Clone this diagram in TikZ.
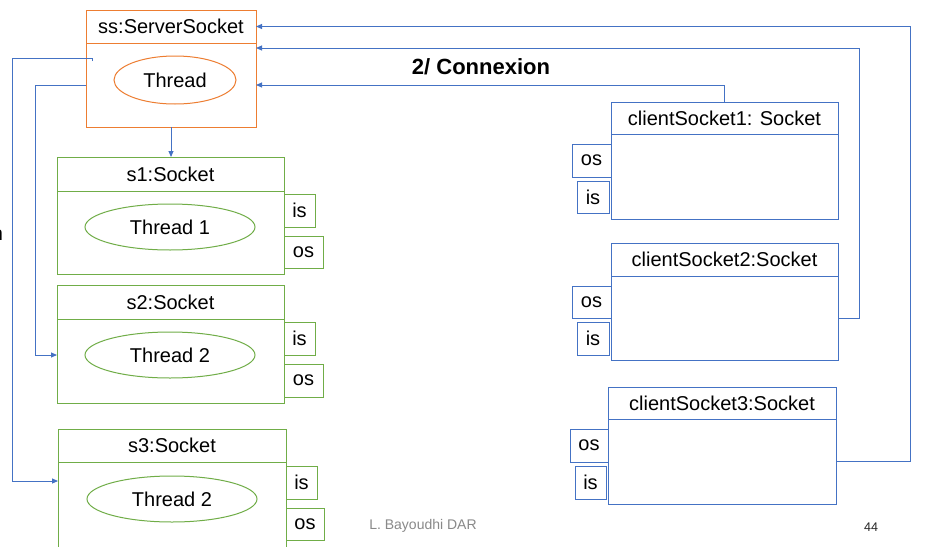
\documentclass[tikz,border=0pt]{standalone}
\usepackage{fontspec}
\setmainfont{Liberation Sans}
\usetikzlibrary{shapes.geometric,arrows.meta}
\definecolor{oran}{HTML}{ED7D31}
\definecolor{gren}{HTML}{70AD47}
\definecolor{blu}{HTML}{4472C4}
\definecolor{conn}{HTML}{4472C4}
\definecolor{foot}{HTML}{898989}
\begin{document}
\begin{tikzpicture}[x=1pt,y=-1pt,
  every node/.style={inner sep=0pt,outer sep=0pt,font=\fontsize{20}{24}\selectfont},
  boxpart/.style={draw,line width=1pt,rectangle,anchor=north west},
  ell/.style={draw,line width=1pt,ellipse},
  arr/.style={draw=conn,line width=0.9pt,-{Triangle[length=6pt,width=5pt]}},
  ln/.style={draw=conn,line width=0.9pt}]
\useasboundingbox (0,0) rectangle (942,546);
\fill[white] (0,0) rectangle (942,546);

% server socket
\node[boxpart,draw=oran,minimum width=170pt,minimum height=33pt] (ssh) at (86,10) {ss:ServerSocket};
\node[boxpart,draw=oran,minimum width=170pt,minimum height=84pt] (ssb) at (86,43) {};
\node[ell,draw=oran,minimum width=122pt,minimum height=48pt] (sst) at (175,80) {Thread};

% s1
\node[boxpart,draw=gren,minimum width=227pt,minimum height=34pt] (s1h) at (57,157) {s1:Socket};
\node[boxpart,draw=gren,minimum width=227pt,minimum height=83pt] (s1b) at (57,191) {};
\node[ell,draw=gren,minimum width=170pt,minimum height=46pt] (s1t) at (170,227) {Thread 1};
\node[boxpart,draw=gren,minimum width=31pt,minimum height=33pt] (s1is) at (284,194) {is};
\node[boxpart,draw=gren,minimum width=39pt,minimum height=32pt] (s1os) at (284,236) {os};

% s2
\node[boxpart,draw=gren,minimum width=227pt,minimum height=34pt] (s2h) at (57,285) {s2:Socket};
\node[boxpart,draw=gren,minimum width=227pt,minimum height=84pt] (s2b) at (57,319) {};
\node[ell,draw=gren,minimum width=170pt,minimum height=46pt] (s2t) at (170,355) {Thread 2};
\node[boxpart,draw=gren,minimum width=31pt,minimum height=33pt] (s2is) at (284,322) {is};
\node[boxpart,draw=gren,minimum width=39pt,minimum height=33pt] (s2os) at (284,364) {os};

% s3
\node[boxpart,draw=gren,minimum width=228pt,minimum height=33pt] (s3h) at (58,429) {s3:Socket};
\node[boxpart,draw=gren,minimum width=228pt,minimum height=110pt] (s3b) at (58,462) {};
\node[ell,draw=gren,minimum width=170pt,minimum height=46pt] (s3t) at (172,499) {Thread 2};
\node[boxpart,draw=gren,minimum width=31pt,minimum height=33pt] (s3is) at (286,466) {is};
\node[boxpart,draw=gren,minimum width=38pt,minimum height=32pt] (s3os) at (286,508) {os};

% client sockets
\node[boxpart,draw=blu,minimum width=227pt,minimum height=32pt] (c1h) at (611,102) {clientSocket1: Socket};
\node[boxpart,draw=blu,minimum width=227pt,minimum height=85pt] (c1b) at (611,134) {};
\node[boxpart,draw=blu,minimum width=39pt,minimum height=33pt] (c1os) at (572,144) {os};
\node[boxpart,draw=blu,minimum width=32pt,minimum height=32pt] (c1is) at (577,181) {is};

\node[boxpart,draw=blu,minimum width=227pt,minimum height=33pt] (c2h) at (611,243) {clientSocket2:Socket};
\node[boxpart,draw=blu,minimum width=227pt,minimum height=84pt] (c2b) at (611,276) {};
\node[boxpart,draw=blu,minimum width=39pt,minimum height=32pt] (c2os) at (572,286) {os};
\node[boxpart,draw=blu,minimum width=32pt,minimum height=33pt] (c2is) at (577,322) {is};

\node[boxpart,draw=blu,minimum width=228pt,minimum height=32pt] (c3h) at (608,387) {clientSocket3:Socket};
\node[boxpart,draw=blu,minimum width=228pt,minimum height=85pt] (c3b) at (608,419) {};
\node[boxpart,draw=blu,minimum width=38pt,minimum height=33pt] (c3os) at (570,429) {os};
\node[boxpart,draw=blu,minimum width=31pt,minimum height=33pt] (c3is) at (575,466) {is};

% texts
\node[font=\fontsize{22}{26}\selectfont\bfseries] (title) at (481,67) {2/ Connexion};
\node[font=\fontsize{14}{16}\selectfont,text=foot] (author) at (423,526) {L. Bayoudhi DAR};
\node[font=\fontsize{12.5}{15}\selectfont,text=black!85] (page) at (871,527) {44};
\node[anchor=east] (cut) at (3,235) {n};

% connectors
\draw[arr] (ssb.south) -- (ssb.south |- s1h.north);
\coordinate (l1) at (92,61);
\draw[arr] (l1) -- (92,58) -- (12,58) -- (12,481) -- (12,481 -| s3b.west);
\draw[arr] (ssb.west) -- (35,85) -- (35,355) -- (35,355 -| s2b.west);
\draw[arr] (c3b.east) -- (910,461.5) -- (910,26.5) -- (ssh.east);
\draw[arr] (c2b.east) -- (859,318) -- (859,48) -- (859,48 -| ssb.east);
\draw[arr] (c1h.north) -- (724.5,85) -- (ssb.east);
\end{tikzpicture}
\end{document}
